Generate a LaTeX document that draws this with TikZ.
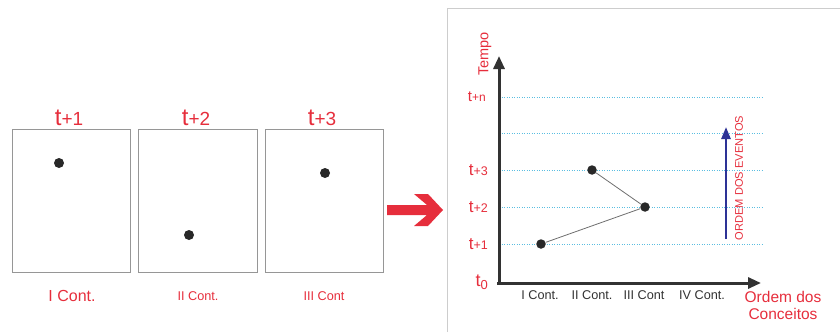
\documentclass[tikz,border=0pt]{standalone}
\usepackage{fontspec}
\setmainfont{Liberation Sans}
\usetikzlibrary{arrows.meta, positioning}
\definecolor{figred}{RGB}{230, 46, 60}
\definecolor{axisdark}{RGB}{50, 50, 50}
\definecolor{dotdark}{RGB}{40, 40, 40}
\definecolor{boxgray}{RGB}{150, 150, 150}
\definecolor{framegray}{RGB}{205, 205, 205}
\definecolor{gridcyan}{RGB}{90, 190, 225}
\definecolor{linkgray}{RGB}{110, 110, 110}
\definecolor{evtblue}{RGB}{45, 50, 150}
\newcommand{\fsz}[1]{\fontsize{#1}{#1}\selectfont}
\newcommand{\tmark}[3]{{\fsz{#1}t}{\fsz{#2}#3}}
\tikzset{
  pane/.style={draw=boxgray, line width=1pt, minimum width=118.5pt, minimum height=143pt, inner sep=0pt},
  frame/.style={draw=framegray, line width=0.8pt},
  dot/.style={circle, fill=dotdark, inner sep=0pt, minimum size=10pt},
  axis/.style={line width=3pt, draw=axisdark, -{Triangle[length=13pt, width=11pt]}},
  grid/.style={draw=gridcyan, line width=0.7pt, dash pattern=on 1pt off 1.5pt},
  link/.style={draw=linkgray, line width=0.8pt},
  evt/.style={line width=2.5pt, draw=evtblue, -{Triangle[length=12pt, width=9pt]}},
  lab/.style={text=figred, inner sep=0pt},
  cont/.style={text=axisdark, font=\fsz{12.7}, inner sep=0pt}
}
\begin{document}
\begin{tikzpicture}[x=1pt, y=-1pt]
  \useasboundingbox (0,0) rectangle (840,332);
  % three snapshots
  \node[pane] (ctx1) at (71.5,200.5) {};
  \node[pane] (ctx2) at (198,200.5) {};
  \node[pane] (ctx3) at (324.5,200.5) {};
  \node[dot] (d1) at (59,163) {};
  \node[dot] (d2) at (189,235) {};
  \node[dot] (d3) at (325,173) {};
  \node[lab, anchor=base] (top1) at (69,125) {\tmark{24}{19}{+1}};
  \node[lab, anchor=base] (top2) at (196,125) {\tmark{24}{19}{+2}};
  \node[lab, anchor=base] (top3) at (322,125) {\tmark{24}{19}{+3}};
  \node[lab, anchor=base, font=\fsz{16}] (name1) at (72,301) {I Cont.};
  \node[lab, anchor=base, font=\fsz{12.7}] (name2) at (198,300) {II Cont.};
  \node[lab, anchor=base, font=\fsz{12.7}] (name3) at (324,300) {III Cont};
  % big arrow
  \fill[figred] (387,205) -- (427,205) -- (414,194) -- (428,194) -- (443,210)
    -- (428,226) -- (414,226) -- (427,215) -- (387,215) -- cycle;
  % chart
  \draw[frame] (447,332) -- (447,8) -- (840,8);
  \coordinate (origin) at (499,283);
  \coordinate (ytip) at (499,56);
  \coordinate (xtip) at (761,283);
  \draw[grid] (499,97) -- (762,97);
  \draw[grid] (499,133) -- (762,133);
  \draw[grid] (499,170) -- (762,170);
  \draw[grid] (499,207) -- (762,207);
  \draw[grid] (499,244) -- (762,244);
  \draw[axis] ([yshift=1.5pt]origin) -- (ytip);
  \draw[axis] ([xshift=-2pt]origin) -- (xtip);
  \node[lab, anchor=east] (tn) at (486,97) {\tmark{15}{12}{+n}};
  \node[lab, anchor=east] (t3) at (488,170) {\tmark{17}{12.5}{+3}};
  \node[lab, anchor=east] (t2) at (488,207) {\tmark{17}{12.5}{+2}};
  \node[lab, anchor=east] (t1) at (488,244) {\tmark{17}{12.5}{+1}};
  \node[lab, anchor=east] (t0) at (488,282) {{\fsz{18}t}\raisebox{-2.5pt}{\fsz{13}0}};
  \node[lab, rotate=90, font=\fsz{14.5}] (tempo) at (485,54) {Tempo};
  \node[cont] (c1) at (540,295) {I Cont.};
  \node[cont] (c2) at (592,295) {II Cont.};
  \node[cont] (c3) at (644,295) {III Cont};
  \node[cont] (c4) at (702,295) {IV Cont.};
  \node[lab, align=center, font=\fontsize{15.5}{17}\selectfont] (order) at (783,305) {Ordem dos\\Conceitos};
  \node[dot, minimum size=9.5pt] (p1) at (541,244) {};
  \node[dot, minimum size=9.5pt] (p2) at (592,170) {};
  \node[dot, minimum size=9.5pt] (p3) at (645,207) {};
  \draw[link] (p1) -- (p3) -- (p2);
  \coordinate (evlow) at (726,239);
  \coordinate (evhigh) at (726,127);
  \draw[evt] (evlow) -- (evhigh);
  \node[lab, rotate=90, font=\fsz{11.1}] (evtxt) at (739,178) {ORDEM DOS EVENTOS};
\end{tikzpicture}
\end{document}
